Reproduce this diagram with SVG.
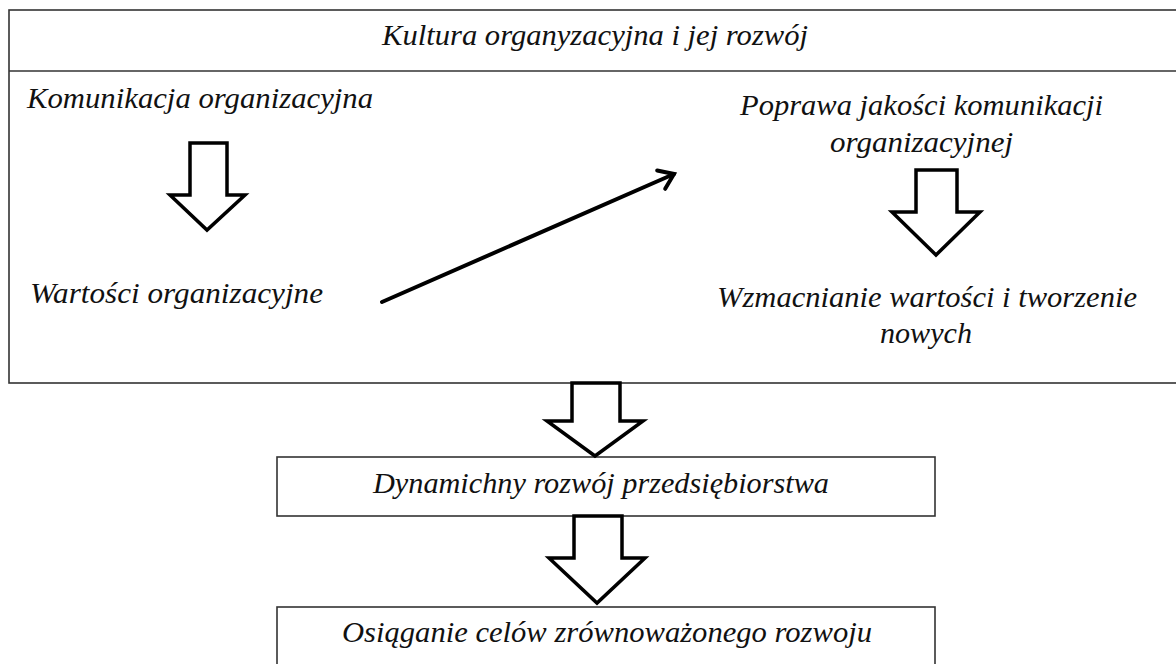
<svg xmlns="http://www.w3.org/2000/svg" width="1176" height="664" viewBox="0 0 1176 664">
<style>
.t{font-family:"Liberation Serif","Times New Roman",serif;font-style:italic;font-size:30px;fill:#111}
.box{fill:#fff;stroke:#333;stroke-width:1.6}
.hollow{fill:#fff;stroke:#000;stroke-width:3.5;stroke-linejoin:miter}
.line{stroke:#000;stroke-width:4;fill:none;stroke-linecap:round}
</style>
<defs>
<marker id="open" markerUnits="userSpaceOnUse" markerWidth="30" markerHeight="30" refX="22" refY="12" orient="auto" viewBox="0 0 30 24">
<polyline points="8,2 22,12 8,22" fill="none" stroke="#000" stroke-width="4" stroke-linecap="round" stroke-linejoin="miter"/>
</marker>
</defs>
<rect width="1176" height="664" fill="#fff"/>
<g id="outer">
<rect class="box" x="9" y="10" width="1180" height="373"/>
<line x1="9" y1="71" x2="1180" y2="71" stroke="#333" stroke-width="1.6"/>
<text class="t" x="382" y="45" textLength="426" lengthAdjust="spacingAndGlyphs">Kultura organyzacyjna i jej rozwój</text>
</g>
<g id="komunikacja">
<text class="t" x="27" y="108" textLength="346" lengthAdjust="spacingAndGlyphs">Komunikacja organizacyjna</text>
</g>
<g id="wartosci">
<text class="t" x="30" y="303" textLength="293" lengthAdjust="spacingAndGlyphs">Wartości organizacyjne</text>
</g>
<g id="poprawa">
<text class="t" x="740" y="115" textLength="363" lengthAdjust="spacingAndGlyphs">Poprawa jakości komunikacji</text>
<text class="t" x="830" y="152" textLength="183" lengthAdjust="spacingAndGlyphs">organizacyjnej</text>
</g>
<g id="wzmacnianie">
<text class="t" x="717" y="307" textLength="420" lengthAdjust="spacingAndGlyphs">Wzmacnianie wartości i tworzenie</text>
<text class="t" x="880" y="343" textLength="92" lengthAdjust="spacingAndGlyphs">nowych</text>
</g>
<g id="dynamiczny">
<rect class="box" x="277" y="457" width="658" height="59"/>
<text class="t" x="373" y="493" textLength="456" lengthAdjust="spacingAndGlyphs">Dynamichny rozwój przedsiębiorstwa</text>
</g>
<g id="osiaganie">
<rect class="box" x="277" y="607" width="658" height="70"/>
<text class="t" x="342" y="642" textLength="530" lengthAdjust="spacingAndGlyphs">Osiąganie celów zrównoważonego rozwoju</text>
</g>
<g id="connectors">
<polygon class="hollow" points="190,143 227,143 227,195 245,195 207,230 170,195 190,195"/>
<polygon class="hollow" points="916,170 957,170 957,212 980,212 936,255 892,212 916,212"/>
<polygon class="hollow" points="572,383 620,383 620,421 643,421 595,456 547,421 572,421"/>
<polygon class="hollow" points="574,516 622,516 622,558 645,558 597,603 549,558 574,558"/>
<line class="line" x1="382" y1="302" x2="674" y2="174" marker-end="url(#open)"/>
</g>
</svg>
